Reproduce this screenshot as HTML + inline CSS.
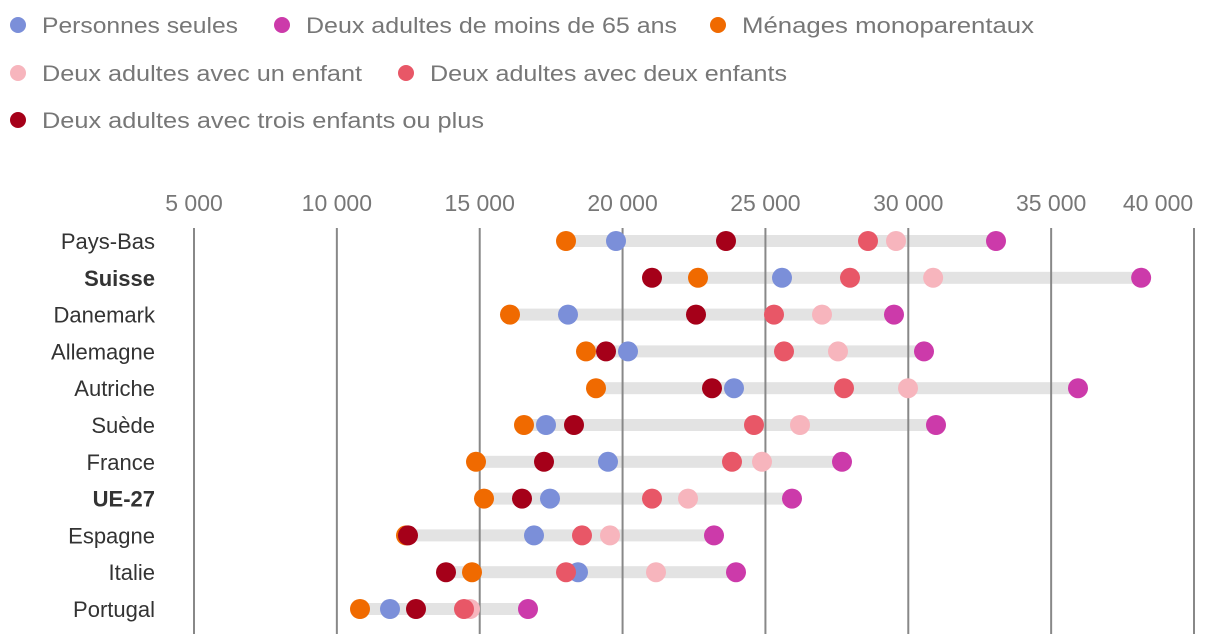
<!DOCTYPE html>
<html><head><meta charset="utf-8"><style>
body{margin:0;background:#fff;width:1220px;height:634px;overflow:hidden;font-family:"Liberation Sans","DejaVu Sans",sans-serif}
</style></head><body>
<svg id="c" width="1220" height="634" xmlns="http://www.w3.org/2000/svg"></svg>
<script>
const countries=["Pays-Bas","Suisse","Danemark","Allemagne","Autriche","Suède","France","UE-27","Espagne","Italie","Portugal"];
const boldCountries=["Suisse","UE-27"];
const seriesNames=["Personnes seules","Deux adultes de moins de 65 ans","Ménages monoparentaux","Deux adultes avec un enfant","Deux adultes avec deux enfants","Deux adultes avec trois enfants ou plus"];
const seriesColors=["#7b8fd9","#cc3aaa","#f06a00","#f7b5bd","#e85767","#a50019"];
const single=[19770,25580,18090,20190,23900,17320,19490,17460,16900,18440,11860];
const twoUnder65=[33070,38150,29500,30550,35940,30970,27680,25930,23200,23970,16690];
const monoparent=[18020,22640,16060,18720,19070,16550,14870,15150,12420,14730,10810];
const oneChild=[29570,30870,26980,27540,29990,26210,24880,22290,19560,21170,14660];
const twoChildren=[28590,27960,25300,25650,27750,24600,23830,21030,18580,18020,14450];
const threeChildren=[23620,21030,22570,19420,23130,18300,17250,16480,12490,13820,12770];
const ticks=[5000,10000,15000,20000,25000,30000,35000,40000];
const tickLabels=["5 000","10 000","15 000","20 000","25 000","30 000","35 000","40 000"];
const series=[single,twoUnder65,monoparent,oneChild,twoChildren,threeChildren];
const NS="http://www.w3.org/2000/svg",svg=document.getElementById('c');
const x=v=>194+(v-5000)*(1194-194)/35000;
const y=i=>241+i*36.8;
function mk(t,a,p){const e=document.createElementNS(NS,t);for(const k in a)e.setAttribute(k,a[k]);(p||svg).appendChild(e);return e;}
const legPos=[[18,25],[282,25],[718,25],[18,73],[406,73],[18,120]];
const legW=[196,371,292,320,357,442];
seriesNames.forEach((n,i)=>{const g=mk('g',{});


mk('circle',{cx:legPos[i][0],cy:legPos[i][1],r:8,fill:seriesColors[i]},g);
const t=mk('text',{x:legPos[i][0]+24,y:legPos[i][1]+8,'font-size':22,fill:'#777',textLength:legW[i],lengthAdjust:'spacingAndGlyphs'},g);t.textContent=n;});
countries.forEach((c,i)=>{const vals=series.map(s=>s[i]);const mn=Math.min(...vals),mx=Math.max(...vals);
const r=mk('rect',{x:x(mn),y:y(i)-6,width:x(mx)-x(mn),height:12,fill:'#e3e3e3'});


const t=mk('text',{x:155,y:y(i)+8,'text-anchor':'end','font-size':22,fill:'#333','font-weight':boldCountries.includes(c)?'bold':'normal'});


t.textContent=c;});
ticks.forEach((v,i)=>{const l=mk('line',{x1:x(v),x2:x(v),y1:228,y2:634,stroke:'#888','stroke-width':2});


const t=mk('text',{x:i==ticks.length-1?x(v)-36:x(v),y:211,'text-anchor':'middle','font-size':23,fill:'#777'});


t.textContent=tickLabels[i];});
countries.forEach((c,i)=>{[0,1,2,3,4,5].forEach(s=>{const d=mk('circle',{cx:x(series[s][i]),cy:y(i),r:10,fill:seriesColors[s]});

});});
</script>
</body></html>
